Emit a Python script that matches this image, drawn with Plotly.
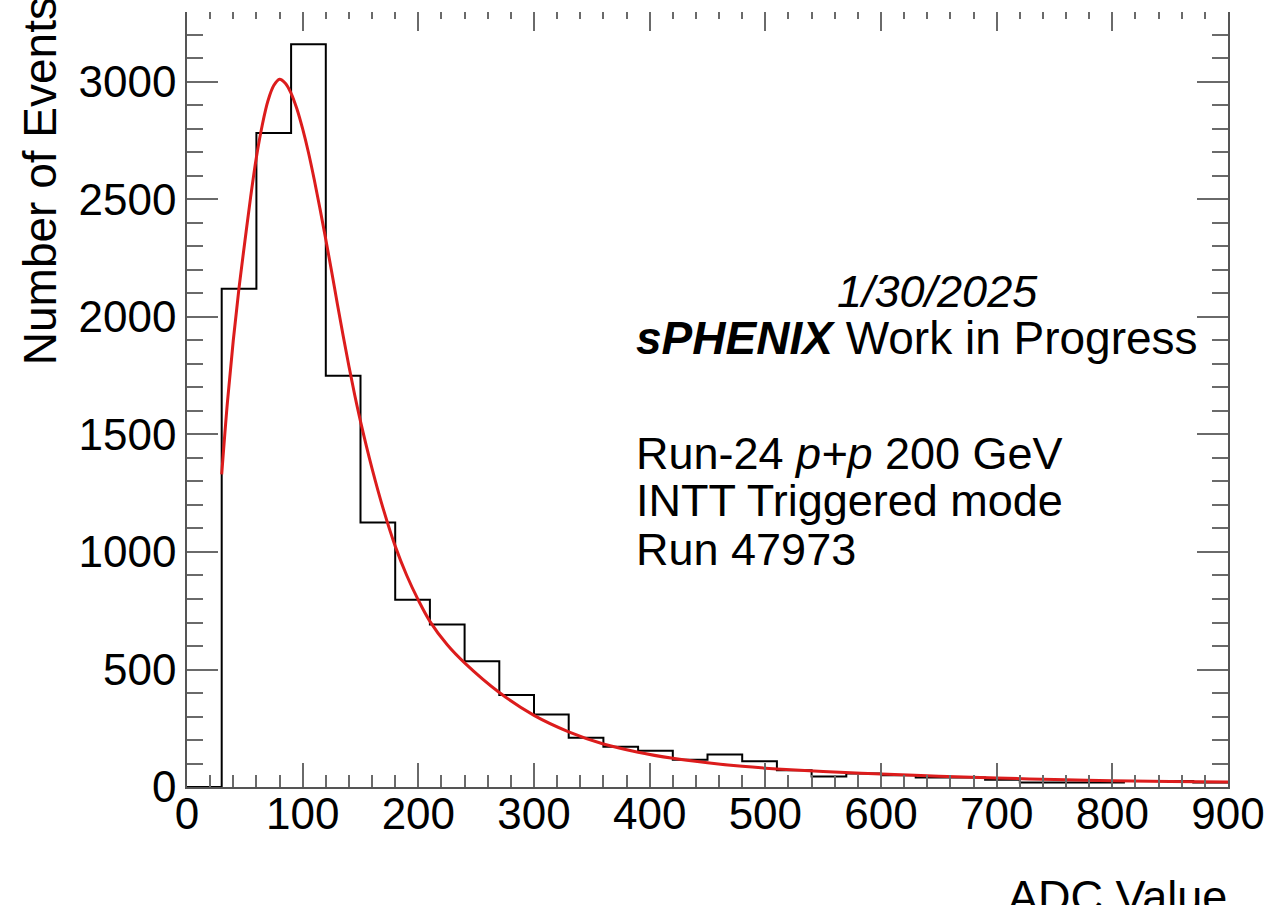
import plotly.graph_objects as go

# ---- histogram: INTT ADC distribution (30 ADC-wide bins) ----
bin_edges = [0, 30, 60, 90, 120, 150, 180, 210, 240, 270, 300, 330, 360, 390, 420,
             450, 480, 510, 540, 570, 600, 630, 660, 690, 720, 750, 780, 810, 840,
             870, 900]
bin_counts = [0, 2120, 2783, 3161, 1750, 1126, 797, 691, 535, 392, 309, 210, 171,
              154, 116, 138, 110, 71, 45, 57, 50, 40, 40, 31, 19, 19, 19, 25, 25, 19]

# ---- fitted curve, sampled along the fit ----
fit_adc = [30, 35, 40, 45, 50, 55, 60, 65, 70, 75, 80, 85, 90, 95, 100, 105, 110,
           115, 120, 125, 130, 135, 140, 145, 150, 160, 170, 180, 190, 200, 210, 225,
           240, 270, 300, 330, 360, 390, 420, 450, 480, 510, 550, 600, 650, 700, 750,
           800, 850, 900]
fit_events = [1330, 1640, 1900, 2125, 2320, 2510, 2680, 2815, 2920, 2985, 3012, 2995,
              2952, 2886, 2800, 2700, 2585, 2460, 2330, 2195, 2055, 1920, 1790, 1668,
              1556, 1355, 1178, 1025, 900, 795, 705, 605, 528, 402, 305, 235, 183, 148,
              122, 103, 88, 77, 66, 55, 46, 38, 32, 27, 23.5, 21]

x_tick_vals = [0, 100, 200, 300, 400, 500, 600, 700, 800, 900]
y_tick_vals = [0, 500, 1000, 1500, 2000, 2500, 3000]

# ---- canvas geometry (pixels) ----
W, H = 1288, 905
L, R, T, B = 187, 60, 5, 118.3
PW = W - L - R
PH = H - T - B
FONT = "Liberation Sans, Arial, Helvetica, sans-serif"


def paper_x(px):
    return (px - L) / PW


def paper_y(py):
    return (H - B - py) / PH


y_max = 1.05 * max(bin_counts)

fig = go.Figure()

fig.add_trace(go.Scatter(
    x=bin_edges,
    y=bin_counts + [bin_counts[-1]],
    mode="lines",
    line=dict(color="black", width=2, shape="hv"),
    showlegend=False,
    hoverinfo="skip",
))

fig.add_trace(go.Scatter(
    x=fit_adc,
    y=fit_events,
    mode="lines",
    line=dict(color="#dc1c1c", width=3, shape="spline", smoothing=1.0),
    showlegend=False,
    hoverinfo="skip",
))

axis_common = dict(
    showgrid=False,
    zeroline=False,
    showline=True,
    linecolor="#555555",
    linewidth=1.5,
    mirror="ticks",
    ticks="inside",
    tickcolor="#6a6a6a",
    tickwidth=1.5,
    tickfont=dict(family=FONT, size=44, color="black"),
)

fig.update_xaxes(
    range=[0, 900],
    tickvals=x_tick_vals,
    ticktext=[str(v) for v in x_tick_vals],
    ticklen=24,
    ticklabelstandoff=-13,
    minor=dict(dtick=20, ticklen=12, ticks="inside", tickcolor="#6a6a6a", tickwidth=1.5),
    **axis_common,
)
fig.update_yaxes(
    range=[0, y_max],
    tickvals=y_tick_vals,
    ticktext=[str(v) for v in y_tick_vals],
    ticklen=31,
    ticklabelstandoff=0,
    minor=dict(dtick=100, ticklen=16, ticks="inside", tickcolor="#6a6a6a", tickwidth=1.5),
    **axis_common,
)


def label(text, x_px, y_px, xanchor, size=45, angle=0, yanchor="middle"):
    fig.add_annotation(
        text=text,
        x=paper_x(x_px), y=paper_y(y_px),
        xref="paper", yref="paper",
        xanchor=xanchor, yanchor=yanchor,
        showarrow=False,
        textangle=angle,
        font=dict(family=FONT, size=size, color="black"),
    )


label("<i>1/30/2025</i>", 937, 290, "center")
label("<b><i>sPHENIX</i></b> Work in Progress", 634, 337, "left", size=46)
label("Run-24 <i>p+p</i> 200 GeV", 634, 452, "left")
label("INTT Triggered mode", 634, 500, "left")
label("Run 47973", 634, 549, "left")

# axis titles, aligned to the far ends of the axes
label("Number of Events", 40, 366, "center", size=46, angle=-90, yanchor="bottom")
label("ADC Value", 1229, 896, "right")

# blank strip along the top edge of the canvas
fig.add_shape(
    type="rect", xref="paper", yref="paper",
    x0=paper_x(0), x1=paper_x(W), y0=paper_y(10), y1=paper_y(-2),
    fillcolor="white", line=dict(width=0), layer="above",
)

fig.update_layout(
    width=W, height=H,
    margin=dict(l=L, r=R, t=T, b=B, pad=0),
    paper_bgcolor="white",
    plot_bgcolor="white",
    showlegend=False,
)

fig.write_html("out.html")
